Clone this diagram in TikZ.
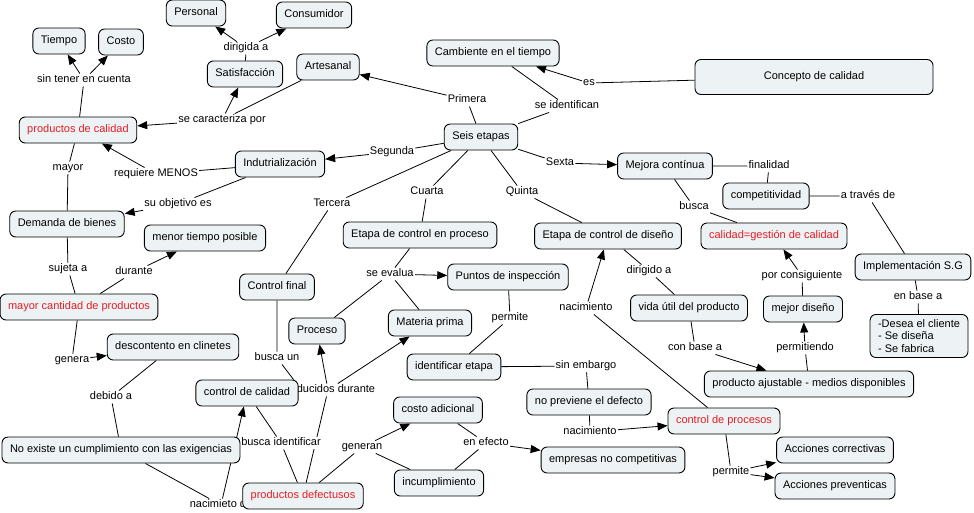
\documentclass[tikz,border=0pt]{standalone}
\usepackage{fontspec}
\setmainfont{Liberation Sans}
\usetikzlibrary{arrows.meta}
\definecolor{cmapfill}{RGB}{237,242,244}
\definecolor{cmapred}{RGB}{228,30,36}
\pgfdeclarelayer{bg}
\pgfsetlayers{bg,main}
\tikzset{
	concept/.style={draw=black, fill=cmapfill, rounded corners=6pt, line width=0.9pt, inner xsep=8pt, minimum height=26pt, text height=8pt, text depth=2.5pt},
	hot/.style={concept, text=cmapred},
	link/.style={fill=white, inner sep=1pt, text height=8pt, text depth=2.5pt},
}
\begin{document}
\begin{tikzpicture}[x=1pt, y=-1pt, font=\fontsize{11}{12.5}\selectfont, line join=round, >={Triangle[length=10pt,width=8pt]}]
	\useasboundingbox (0,0) rectangle (974,512);
	\node[link] (lSinTener) at (84,80) {sin tener en cuenta};
	\node[link] (lDirigida) at (246,48) {dirigida a};
	\node[link] (lCaract) at (222,120) {se caracteriza por};
	\node[link] (lPrimera) at (467,100) {Primera};
	\node[link] (lIdentif) at (567,106) {se identifican};
	\node[link] (lEs) at (589,83) {es};
	\node[link] (lSegunda) at (392,152) {Segunda};
	\node[link] (lTercera) at (332,204) {Tercera};
	\node[link] (lCuarta) at (427,192) {Cuarta};
	\node[link] (lQuinta) at (522,192) {Quinta};
	\node[link] (lSexta) at (560,163) {Sexta};
	\node[link] (lFinalidad) at (769,166) {finalidad};
	\node[link] (lTraves) at (868,196) {a través de};
	\node[link] (lBusca) at (694,207) {busca};
	\node[link] (lRequiere) at (156,174) {requiere MENOS};
	\node[link] (lMayor) at (68,168) {mayor};
	\node[link] (lObjetivo) at (178,204) {su objetivo es};
	\node[link] (lSujeta) at (68,269) {sujeta a};
	\node[link] (lDurante) at (134,272) {durante};
	\node[link] (lGenera) at (72,360) {genera};
	\node[link] (lDebido) at (111,397) {debido a};
	\node[link] (lNacimieto) at (221,505) {nacimieto de};
	\node[link] (lBuscaUn) at (277,358) {busca un};
	\node[link] (lProducidos) at (328,390) {producidos durante};
	\node[link] (lBuscaIdent) at (281,443) {busca identificar};
	\node[link] (lGeneran) at (362,447) {generan};
	\node[link] (lEfecto) at (486,443) {en efecto};
	\node[link] (lEvalua) at (390,274) {se evalua};
	\node[link] (lPermite) at (510,318) {permite};
	\node[link] (lEmbargo) at (586,366) {sin embargo};
	\node[link] (lNacBajo) at (590,432) {nacimiento};
	\node[link] (lNacAlto) at (586,308) {nacimiento};
	\node[link] (lDirigido) at (649,271) {dirigido a};
	\node[link] (lConBase) at (695,348) {con base a};
	\node[link] (lPermitiendo) at (805,348) {permitiendo};
	\node[link] (lConsig) at (802,276) {por consiguiente};
	\node[link] (lEnBase) at (918,297) {en base a};
	\node[link] (lPermite2) at (731,472) {permite};

	\node[concept] (tiempo) at (59,41) {Tiempo};
	\node[concept] (costo) at (121,42) {Costo};
	\node[concept] (personal) at (196,13) {Personal};
	\node[concept] (consumidor) at (314,15) {Consumidor};
	\node[concept] (satisf) at (245,74) {Satisfacción};
	\node[concept] (artesanal) at (328,67) {Artesanal};
	\node[concept] (cambiente) at (493,53) {Cambiente en el tiempo};
	\node[concept, minimum width=238pt, minimum height=35pt] (concepto) at (814,77) {Concepto de calidad};
	\node[concept] (seis) at (481,137) {Seis etapas};
	\node[hot] (prodcal) at (78,130) {productos de calidad};
	\node[concept] (indus) at (280,164) {Indutrialización};
	\node[concept] (mejora) at (665,166) {Mejora contínua};
	\node[concept] (compet) at (766,196) {competitividad};
	\node[hot] (gestion) at (774,236) {calidad=gestión de calidad};
	\node[concept] (demanda) at (67,224) {Demanda de bienes};
	\node[concept] (menor) at (205,238) {menor tiempo posible};
	\node[concept] (etproceso) at (420,235) {Etapa de control en proceso};
	\node[concept] (etdiseno) at (608,236) {Etapa de control de diseño};
	\node[concept] (implem) at (913,267) {Implementación S.G};
	\node[concept] (ctrlfinal) at (277,287) {Control final};
	\node[hot] (mayorcant) at (79,307) {mayor cantidad de productos};
	\node[concept] (puntos) at (508,277) {Puntos de inspección};
	\node[concept] (proceso) at (317,331) {Proceso};
	\node[concept] (materia) at (430,323) {Materia prima};
	\node[concept] (vida) at (689,308) {vida útil del producto};
	\node[concept] (mejordis) at (803,309) {mejor diseño};
	\node[concept, align=left, text height=, text depth=, inner ysep=5pt] (desea) at (919,336) {-Desea el cliente\\- Se diseña\\- Se fabrica};
	\node[concept] (descont) at (173,347) {descontento en clinetes};
	\node[concept] (identif) at (454,367) {identificar etapa};
	\node[concept] (ajustable) at (809,384) {producto ajustable - medios disponibles};
	\node[concept] (ctrlcal) at (247,393) {control de calidad};
	\node[concept] (costoad) at (438,410) {costo adicional};
	\node[concept] (noprev) at (589,402) {no previene el defecto};
	\node[concept] (noexiste) at (121,450) {No existe un cumplimiento con las exigencias};
	\node[hot] (ctrlproc) at (724,421) {control de procesos};
	\node[concept] (correct) at (835,450) {Acciones correctivas};
	\node[concept] (prevent) at (835,486) {Acciones preventicas};
	\node[concept] (empresas) at (613,460) {empresas no competitivas};
	\node[concept] (incumpl) at (439,483) {incumplimiento};
	\node[hot] (defect) at (303,496) {productos defectusos};

	\begin{pgfonlayer}{bg}
	\begin{scope}[line width=0.8pt]
	\draw (prodcal) -- (lSinTener);
	\draw[->] (lSinTener) -- (tiempo);
	\draw[->] (lSinTener) -- (costo);
	\draw (satisf) -- (lDirigida);
	\draw[->] (lDirigida) -- (personal);
	\draw[->] (lDirigida) -- (consumidor);
	\draw (artesanal) -- (lCaract);
	\draw[->] (lCaract) -- (prodcal);
	\draw[->] (lCaract) -- (satisf);
	\draw (seis) -- (lPrimera);
	\draw[->] (lPrimera) -- (artesanal);
	\draw (cambiente) -- (lIdentif) -- (seis);
	\draw (concepto) -- (lEs);
	\draw[->] (lEs) -- (cambiente);
	\draw (seis) -- (lSegunda);
	\draw[->] (lSegunda) -- (indus);
	\draw (seis) -- (lTercera) -- (ctrlfinal);
	\draw (seis) -- (lCuarta) -- (etproceso);
	\draw (seis) -- (lQuinta) -- (etdiseno);
	\draw (seis) -- (lSexta);
	\draw[->] (lSexta) -- (mejora);
	\draw (mejora) -- (lFinalidad) -- (compet);
	\draw (compet) -- (lTraves) -- (implem);
	\draw (mejora) -- (lBusca) -- (gestion);
	\draw (indus) -- (lRequiere);
	\draw[->] (lRequiere) -- (prodcal);
	\draw (prodcal) -- (lMayor) -- (demanda);
	\draw (indus) -- (lObjetivo);
	\draw[->] (lObjetivo) -- (demanda);
	\draw (demanda) -- (lSujeta) -- (mayorcant);
	\draw (mayorcant) -- (lDurante);
	\draw[->] (lDurante) -- (menor);
	\draw (mayorcant) -- (lGenera);
	\draw[->] (lGenera) -- (descont);
	\draw (descont) -- (lDebido) -- (noexiste);
	\draw (noexiste) -- (lNacimieto);
	\draw[->] (lNacimieto) -- (ctrlcal);
	\draw (ctrlfinal) -- (lBuscaUn) -- ([xshift=-5pt]ctrlcal.north east);
	\draw (defect) -- (lProducidos);
	\draw[->] (lProducidos) -- (proceso);
	\draw[->] (lProducidos) -- (materia);
	\draw (ctrlcal) -- (lBuscaIdent) -- (defect);
	\draw (defect) -- (lGeneran) -- (incumpl);
	\draw[->] (lGeneran) -- (costoad);
	\draw (costoad) -- (lEfecto);
	\draw (incumpl) -- (lEfecto);
	\draw[->] (lEfecto) -- (empresas);
	\draw (etproceso) -- (lEvalua) -- (proceso);
	\draw (lEvalua) -- (materia);
	\draw[->] (lEvalua) -- (puntos);
	\draw (puntos) -- (lPermite) -- (identif);
	\draw (identif) -- (lEmbargo) -- (noprev);
	\draw (noprev) -- (lNacBajo);
	\draw[->] (lNacBajo) -- (ctrlproc);
	\draw (ctrlproc) -- (lNacAlto);
	\draw[->] (lNacAlto) -- (etdiseno);
	\draw (etdiseno) -- (lDirigido) -- (vida);
	\draw (vida) -- (lConBase);
	\draw[->] (lConBase) -- (ajustable);
	\draw (ajustable) -- (lPermitiendo);
	\draw[->] (lPermitiendo) -- (mejordis);
	\draw (mejordis) -- (lConsig);
	\draw[->] (lConsig) -- (gestion);
	\draw (implem) -- (lEnBase) -- (desea);
	\draw (ctrlproc) -- (lPermite2);
	\draw[->] (lPermite2) -- (correct);
	\draw[->] (lPermite2) -- (prevent);
	\end{scope}
	\end{pgfonlayer}
\end{tikzpicture}
\end{document}
